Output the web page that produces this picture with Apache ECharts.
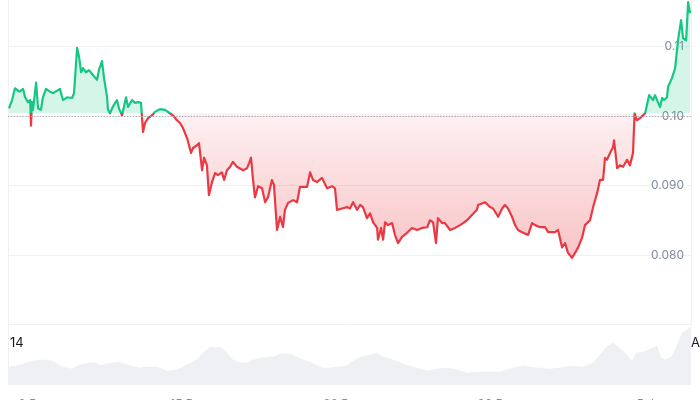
<!DOCTYPE html>
<html><head><meta charset="utf-8">
<script src="https://cdn.jsdelivr.net/npm/echarts@6/dist/echarts.min.js"></script>
<style>html,body{margin:0;padding:0;background:#fff}#c{width:700px;height:400px}</style>
</head><body><div id="c"></div>
<script>
// Day of December (Jan 5 = day 36), fractional
const priceDays = [
6.82,6.96,7.09,7.30,7.46,7.55,7.68,7.78,7.82,7.86,
7.91,8.05,8.14,8.27,8.36,8.50,8.68,8.82,9.13,9.27,
9.45,9.68,9.77,9.91,10.00,10.09,10.18,10.31,10.45,10.63,
10.81,10.90,11.04,11.13,11.27,11.31,11.40,11.54,11.72,11.81,
11.95,12.13,12.22,12.40,12.54,12.67,12.81,12.90,12.99,13.13,
13.31,13.44,13.67,13.90,14.12,14.26,14.44,14.58,14.71,14.90,
15.08,15.17,15.35,15.44,15.58,15.67,15.80,15.89,16.03,16.17,
16.30,16.48,16.58,16.71,16.85,16.98,17.16,17.44,17.62,17.71,
17.80,17.89,17.98,18.12,18.30,18.44,18.57,18.75,18.84,18.98,
19.12,19.25,19.34,19.48,19.71,19.89,20.02,20.16,20.34,20.48,
20.61,20.79,21.02,21.25,21.48,21.61,21.70,21.93,22.15,22.29,
22.43,22.61,22.75,22.88,23.06,23.20,23.34,23.52,23.56,23.70,
23.79,23.88,24.02,24.20,24.33,24.47,24.65,24.88,25.10,25.33,
25.56,25.79,25.92,26.06,26.19,26.28,26.47,26.60,26.83,27.06,
27.28,27.42,27.60,27.83,28.05,28.10,28.42,28.64,28.78,29.01,
29.19,29.32,29.46,29.64,29.78,29.91,30.14,30.37,30.55,30.69,
30.91,31.14,31.28,31.59,31.73,31.91,32.05,32.18,32.36,32.50,
32.64,32.82,32.95,33.18,33.32,33.50,33.63,33.77,33.86,33.95,
34.09,34.22,34.27,34.41,34.54,34.68,34.86,34.99,35.13,35.20,
35.30,35.45,35.54,35.68,35.86,36.04,36.13,36.27,36.36,36.45,
36.54,36.67,36.72,36.90,37.04,37.17,37.31,37.40,37.54,37.63,
37.72];
const priceValues = [
0.1011,0.1023,0.1040,0.1035,0.1039,0.1027,0.1020,0.1023,0.0986,0.1020,
0.1009,0.1048,0.1011,0.1009,0.1027,0.1039,0.1035,0.1033,0.1039,0.1023,
0.1027,0.1026,0.1033,0.1098,0.1085,0.1063,0.1069,0.1063,0.1066,0.1059,
0.1052,0.1066,0.1079,0.1055,0.1027,0.1009,0.1004,0.1014,0.1023,0.1011,
0.1001,0.1027,0.1013,0.1023,0.1019,0.1020,0.1019,0.0977,0.0990,0.0997,
0.1001,0.1006,0.1010,0.1009,0.1004,0.1001,0.0994,0.0990,0.0983,0.0968,
0.0947,0.0954,0.0958,0.0961,0.0922,0.0940,0.0929,0.0886,0.0905,0.0918,
0.0915,0.0919,0.0908,0.0922,0.0927,0.0934,0.0927,0.0922,0.0925,0.0932,
0.0940,0.0908,0.0883,0.0899,0.0896,0.0876,0.0883,0.0908,0.0901,0.0836,
0.0855,0.0840,0.0865,0.0875,0.0879,0.0876,0.0898,0.0898,0.0898,0.0919,
0.0908,0.0905,0.0911,0.0896,0.0899,0.0896,0.0865,0.0867,0.0869,0.0867,
0.0876,0.0865,0.0872,0.0869,0.0853,0.0860,0.0847,0.0839,0.0822,0.0839,
0.0822,0.0847,0.0843,0.0846,0.0829,0.0817,0.0826,0.0832,0.0839,0.0836,
0.0839,0.0840,0.0850,0.0847,0.0817,0.0853,0.0846,0.0846,0.0836,0.0839,
0.0843,0.0846,0.0850,0.0858,0.0865,0.0872,0.0876,0.0869,0.0867,0.0855,
0.0867,0.0872,0.0867,0.0855,0.0843,0.0836,0.0832,0.0829,0.0846,0.0843,
0.0840,0.0840,0.0833,0.0833,0.0836,0.0811,0.0817,0.0803,0.0796,0.0803,
0.0811,0.0825,0.0843,0.0850,0.0869,0.0889,0.0908,0.0908,0.0940,0.0937,
0.0947,0.0955,0.0965,0.0925,0.0929,0.0927,0.0937,0.0929,0.0947,0.1004,
0.0994,0.0997,0.0999,0.1004,0.1030,0.1023,0.1030,0.1019,0.1013,0.1026,
0.1023,0.1027,0.1042,0.1055,0.1069,0.1109,0.1138,0.1112,0.1109,0.1164,
0.1148];
const volumeDays = [
6.775,6.87,7.32,7.91,8.36,8.77,9.22,9.68,10.04,10.50,10.81,10.95,11.40,11.86,12.31,12.76,13.08,13.54,13.99,14.44,
14.90,15.35,15.62,15.94,16.17,16.39,16.71,16.98,17.30,17.62,17.89,18.34,18.80,19.12,19.57,19.89,20.16,20.57,21.02,21.38,
21.75,22.15,22.29,22.75,23.20,23.52,23.79,24.24,24.70,25.15,25.79,26.24,26.69,27.15,27.60,28.33,29.10,29.69,30.14,30.78,
31.37,31.82,32.27,32.86,33.32,33.63,33.95,34.22,34.45,34.77,35.09,35.27,35.59,36.04,36.22,36.36,36.58,36.90,37.17,37.36,
37.59,37.76];
const volumeValues = [
17,18,20,24,25,24,18,16,20,22,22,19,22,23,19,17,18,18,14,15,
20,25,32,38,37,38,32,25,22,22,25,27,28,31,31,28,25,22,17,17,
18,19,22,28,30,32,28,25,21,18,14,16,17,15,12,13,13,17,19,17,
16,17,19,18,22,30,38,42,38,32,23,32,33,37,39,28,25,28,42,52,
55,58];
const baselinePrice = 0.1004;
const xLabelDays = [8, 15, 22, 29, 36];
const xLabelTexts = ['8 Dec', '15 Dec', '22 Dec', '29 Dec', '5 Jan'];
const yTickValues = [0.07, 0.08, 0.09, 0.10, 0.11];
const yTickLabels = ['', '0.080', '0.090', '0.10', '0.11'];
const cornerTexts = ['14', 'A'];

const xMin = 6.775, xMax = 37.76;
const yMin = 0.07, yMax = 0.1167;
const GREEN = '#16c784', RED = '#ea3943';
const FONT = 'Inter, Roboto, sans-serif';

const chart = echarts.init(document.getElementById('c'), null, {renderer: 'canvas'});
const priceData = priceDays.map((d, i) => [d, priceValues[i]]);
const volumeData = volumeDays.map((d, i) => [d, volumeValues[i]]);

function lookup(vals, labels, v) {
  let best = 0;
  vals.forEach((t, i) => { if (Math.abs(t - v) < Math.abs(vals[best] - v)) best = i; });
  return labels[best];
}

const option = {
  animation: false,
  grid: [
    {left: 8, right: 9, top: 0, bottom: 75.5, containLabel: false, outerBoundsMode: 'none'},
    {left: 8, right: 9, top: 325, bottom: 15, containLabel: false, outerBoundsMode: 'none'}
  ],
  xAxis: [
    {type: 'value', gridIndex: 0, min: xMin, max: xMax, show: false, splitLine: {show: false}},
    {type: 'value', gridIndex: 1, min: xMin, max: xMax,
     axisLine: {show: false}, axisTick: {show: false}, splitLine: {show: false},
     axisLabel: {customValues: xLabelDays, margin: 13, color: '#808a9d', fontSize: 12, fontFamily: FONT,
       formatter: v => lookup(xLabelDays, xLabelTexts, v)}}
  ],
  yAxis: [
    {type: 'value', gridIndex: 0, position: 'right', min: yMin, max: yMax,
     axisLine: {show: true, lineStyle: {color: '#eef0f3'}},
     axisTick: {show: false, customValues: yTickValues},
     axisLabel: {inside: true, margin: 7, customValues: yTickValues.slice(1), color: '#808a9d', fontSize: 12, fontFamily: FONT,
       formatter: v => lookup(yTickValues, yTickLabels, v)},
     splitLine: {show: true, lineStyle: {color: '#f0f1f4', width: 1}}},
    {type: 'value', gridIndex: 1, position: 'left', min: 0, max: 60,
     axisLine: {show: true, lineStyle: {color: '#eef0f3'}}, axisTick: {show: false},
     axisLabel: {show: false}, splitLine: {show: false}},
    {type: 'value', gridIndex: 0, position: 'left', min: yMin, max: yMax,
     axisLine: {show: true, lineStyle: {color: '#eef0f3'}}, axisTick: {show: false},
     axisLabel: {show: false}, splitLine: {show: false}}
  ],
  series: [
    {id: 'price', type: 'line', xAxisIndex: 0, yAxisIndex: 0, data: priceData,
     showSymbol: false, symbol: 'none', smooth: false, z: 3,
     lineStyle: {width: 2.2, color: GREEN, join: 'round'},
     areaStyle: {origin: baselinePrice, color: 'rgba(22,199,132,0.18)', opacity: 1},
     markLine: {silent: true, symbol: 'none', label: {show: false},
       lineStyle: {type: [1.3, 1.6], color: '#a3a9b6', width: 1},
       data: [{yAxis: baselinePrice}]}},
    {id: 'volume', type: 'line', xAxisIndex: 1, yAxisIndex: 1, data: volumeData,
     showSymbol: false, symbol: 'none', lineStyle: {width: 0.5, color: '#e9ecf0'},
     areaStyle: {color: '#eef0f4', opacity: 1}}
  ],
  graphic: [
    {type: 'text', left: 10, top: 337, style: {text: cornerTexts[0], fill: '#1a1a1a', font: '13px ' + FONT}},
    {type: 'text', left: 691, top: 337, style: {text: cornerTexts[1], fill: '#1a1a1a', font: '13px ' + FONT}}
  ]
};
chart.setOption(option);

const yBase = chart.convertToPixel({yAxisIndex: 0}, baselinePrice);
const yLow = chart.convertToPixel({yAxisIndex: 0}, Math.min.apply(null, priceValues));
const yBottom = chart.convertToPixel({yAxisIndex: 0}, yMin);
const b = yBase / yBottom, l = yLow / yBottom;
const lineGrad = {type: 'linear', x: 0, y: 0, x2: 0, y2: yBottom, global: true,
  colorStops: [
    {offset: 0, color: GREEN}, {offset: b, color: GREEN},
    {offset: b, color: RED}, {offset: 1, color: RED}
  ]};
const areaGrad = {type: 'linear', x: 0, y: 0, x2: 0, y2: yBottom, global: true,
  colorStops: [
    {offset: 0, color: 'rgba(22,199,132,0.18)'},
    {offset: b, color: 'rgba(22,199,132,0.18)'},
    {offset: b, color: 'rgba(234,57,67,0.07)'},
    {offset: l, color: 'rgba(234,57,67,0.30)'},
    {offset: 1, color: 'rgba(234,57,67,0.30)'}
  ]};
chart.setOption({series: [{id: 'price', lineStyle: {color: lineGrad}, areaStyle: {color: areaGrad}}]});
</script>
</body></html>
